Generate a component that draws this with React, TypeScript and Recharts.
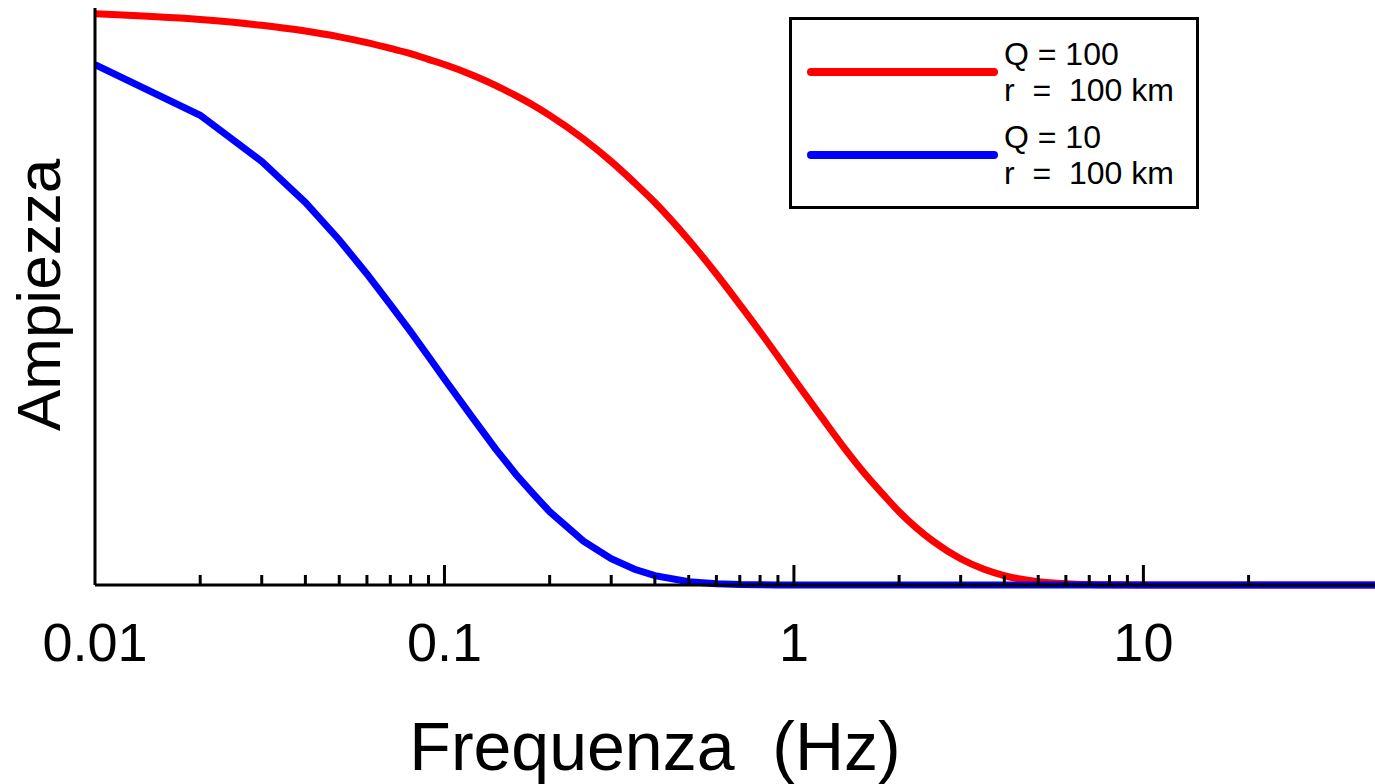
import { LineChart, Line, XAxis, YAxis, Legend, Label } from "recharts";

// frequenze (Hz)
const frequencies = [
  0.01, 0.02, 0.03, 0.04, 0.05, 0.06, 0.07, 0.08, 0.09, 0.1, 0.12, 0.14, 0.16, 0.18, 0.2, 0.25,
  0.3, 0.35, 0.4, 0.5, 0.6, 0.7, 0.8, 0.9, 1, 1.2, 1.4, 1.6, 1.8, 2, 2.5, 3, 3.5, 4, 5, 6, 7, 8,
  10, 20, 46,
];

// Q = 100, r = 100 km
const ampQ100 = [
  0.99, 0.98, 0.97, 0.96, 0.95, 0.94, 0.93, 0.921, 0.911, 0.902, 0.884, 0.866, 0.848, 0.831, 0.814,
  0.773, 0.734, 0.697, 0.663, 0.598, 0.539, 0.486, 0.439, 0.396, 0.357, 0.291, 0.236, 0.192, 0.157,
  0.127, 0.076, 0.0455, 0.0272, 0.0162, 0.0058, 0.0021, 0.0007, 0.0003, 0, 0, 0,
];

// Q = 10, r = 100 km
const ampQ10 = [
  0.902, 0.814, 0.734, 0.663, 0.598, 0.539, 0.486, 0.439, 0.396, 0.357, 0.291, 0.236, 0.192, 0.157,
  0.127, 0.076, 0.0455, 0.0272, 0.0162, 0.0058, 0.0021, 0.0007, 0.0003, 0.0001, 0, 0, 0, 0, 0, 0, 0,
  0, 0, 0, 0, 0, 0, 0, 0, 0, 0,
];

const xTicks = [
  0.01, 0.02, 0.03, 0.04, 0.05, 0.06, 0.07, 0.08, 0.09, 0.1, 0.2, 0.3, 0.4, 0.5, 0.6, 0.7, 0.8, 0.9,
  1, 2, 3, 4, 5, 6, 7, 8, 9, 10, 20,
];
const majorTicks = [0.01, 0.1, 1, 10];

const legendItems = [
  { color: "#ff0000", line1: "Q = 100", line2: "r  =  100 km" },
  { color: "#0000ff", line1: "Q = 10", line2: "r  =  100 km" },
];

const data = frequencies.map((f, i) => ({ f, q100: ampQ100[i], q10: ampQ10[i] }));

const font = '"Liberation Sans", Arial, sans-serif';

function FreqTick(props: any) {
  const { x, y, payload } = props;
  const v = payload.value;
  const major = majorTicks.includes(v);
  return (
    <g>
      {v !== 0.01 && (
        <line x1={x} y1={y} x2={x} y2={y - (major ? 20 : 10)} stroke="#000" strokeWidth={3} />
      )}
      {major && (
        <text x={x} y={y + 76} textAnchor="middle" fontSize={54} fontFamily={font} fill="#000">
          {String(v)}
        </text>
      )}
    </g>
  );
}

function LegendBox() {
  return (
    <div
      style={{
        width: 404,
        height: 186,
        border: "3px solid #000",
        background: "#fff",
        fontFamily: font,
        fontSize: 32,
        color: "#000",
        position: "relative",
      }}
    >
      {legendItems.map((item, i) => (
        <div key={i} style={{ position: "absolute", left: 0, top: 14 + i * 83, width: 404, height: 80 }}>
          <svg width={200} height={80} style={{ position: "absolute", left: 14, top: 0 }}>
            <line x1={5} y1={38} x2={188} y2={38} stroke={item.color} strokeWidth={8} strokeLinecap="round" />
          </svg>
          <div style={{ position: "absolute", left: 212, top: 2, lineHeight: "36px", whiteSpace: "pre" }}>
            {item.line1}
            <br />
            {item.line2}
          </div>
        </div>
      ))}
    </div>
  );
}

export default function App() {
  return (
    <div style={{ width: 1375, height: 784, background: "#fff" }}>
      <style>{`body{margin:0}`}</style>
      <LineChart width={1375} height={784} data={data} margin={{ top: 8, right: 0, bottom: 0, left: 0 }}>
        <XAxis
          dataKey="f"
          type="number"
          scale="log"
          domain={[0.01, 46]}
          ticks={xTicks}
          interval={0}
          allowDataOverflow
          axisLine={{ stroke: "#000", strokeWidth: 3 }}
          tickLine={false}
          tickSize={0}
          tickMargin={0}
          tick={<FreqTick />}
          height={199}
        >
          <Label
            content={() => (
              <text
                x={655}
                y={770}
                textAnchor="middle"
                fontSize={68}
                fontFamily={font}
                fill="#000"
                style={{ whiteSpace: "pre" }}
              >
                {"Frequenza  (Hz)"}
              </text>
            )}
          />
        </XAxis>
        <YAxis
          type="number"
          domain={[0, 1]}
          tick={false}
          tickLine={false}
          axisLine={{ stroke: "#000", strokeWidth: 3 }}
          width={95}
        >
          <Label
            content={() => (
              <text
                x={60}
                y={295}
                transform="rotate(-90, 60, 295)"
                textAnchor="middle"
                fontSize={62}
                fontFamily={font}
                fill="#000"
              >
                Ampiezza
              </text>
            )}
          />
        </YAxis>
        <Legend
          layout="vertical"
          align="center"
          verticalAlign="middle"
          content={<LegendBox />}
          wrapperStyle={{ position: "absolute", left: 789, top: 17, width: 410, height: 192 }}
        />
        <Line
          type="monotone"
          dataKey="q100"
          stroke="#ff0000"
          strokeWidth={7}
          dot={false}
          isAnimationActive={false}
        />
        <Line
          type="linear"
          dataKey="q10"
          stroke="#0000ff"
          strokeWidth={7}
          dot={false}
          isAnimationActive={false}
        />
      </LineChart>
    </div>
  );
}
